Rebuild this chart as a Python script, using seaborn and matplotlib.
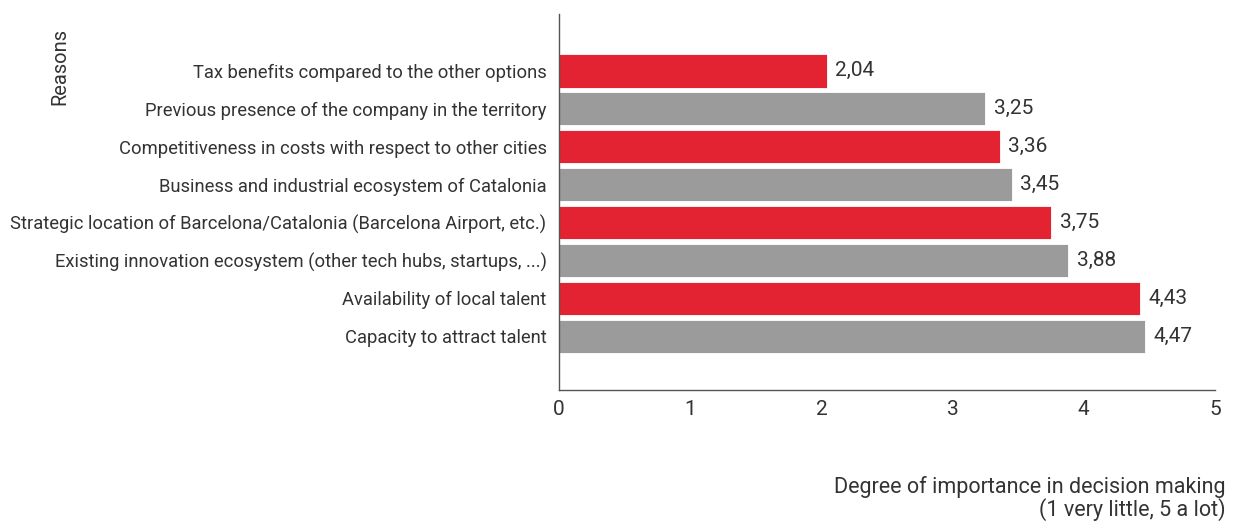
import matplotlib
matplotlib.use("Agg")
import matplotlib.pyplot as plt
import seaborn as sns
import pandas as pd

reasons = [
    "Tax benefits compared to the other options",
    "Previous presence of the company in the territory",
    "Competitiveness in costs with respect to other cities",
    "Business and industrial ecosystem of Catalonia",
    "Strategic location of Barcelona/Catalonia (Barcelona Airport, etc.)",
    "Existing innovation ecosystem (other tech hubs, startups, ...)",
    "Availability of local talent",
    "Capacity to attract talent",
]
scores = [2.04, 3.25, 3.36, 3.45, 3.75, 3.88, 4.43, 4.47]
bar_colors = ["#E32232", "#9B9B9B", "#E32232", "#9B9B9B",
              "#E32232", "#9B9B9B", "#E32232", "#9B9B9B"]
x_ticks = [0, 1, 2, 3, 4, 5]

sns.set_theme(style="white")
plt.rcParams["font.family"] = ["Roboto", "DejaVu Sans"]

df = pd.DataFrame({"reason": reasons, "score": scores})

fig = plt.figure(figsize=(12.33, 5.24), dpi=100)
ax = fig.add_axes([0.4534, 0.2557, 0.532, 0.7176])

sns.barplot(data=df, y="reason", x="score", hue="reason", palette=bar_colors,
            order=reasons, hue_order=reasons, orient="h", width=0.88,
            legend=False, ax=ax, saturation=1, edgecolor="white", linewidth=0.6)

for i, v in enumerate(scores):
    ax.text(v + 0.065, i, f"{v:.2f}".replace(".", ","), va="center", ha="left",
            fontsize=15, color="#333333")

ax.set_xlim(0, 5)
ax.set_ylim(8.42, -1.5)
ax.set_xticks(x_ticks)
ax.set_xticklabels([str(t) for t in x_ticks], fontsize=15, color="#333333")
ax.tick_params(axis="x", direction="in", length=9, width=1, color="#555555", pad=7)
ax.tick_params(axis="y", length=0, labelsize=13.2, labelcolor="#333333", pad=9)
ax.set_ylabel("")
ax.set_xlabel("")
for s in ["top", "right"]:
    ax.spines[s].set_visible(False)
for s in ["left", "bottom"]:
    ax.spines[s].set_color("#555555")
    ax.spines[s].set_linewidth(1)

fig.text(0.0487, 0.874, "Reasons", rotation=90, ha="center", va="center",
         fontsize=14.5, color="#333333")
fig.text(0.994, 0.005, "Degree of importance in decision making\n(1 very little, 5 a lot)",
         ha="right", va="bottom", fontsize=15.5, color="#333333", linespacing=1.0,
         multialignment="right")

fig.savefig("out.png", dpi=100)
